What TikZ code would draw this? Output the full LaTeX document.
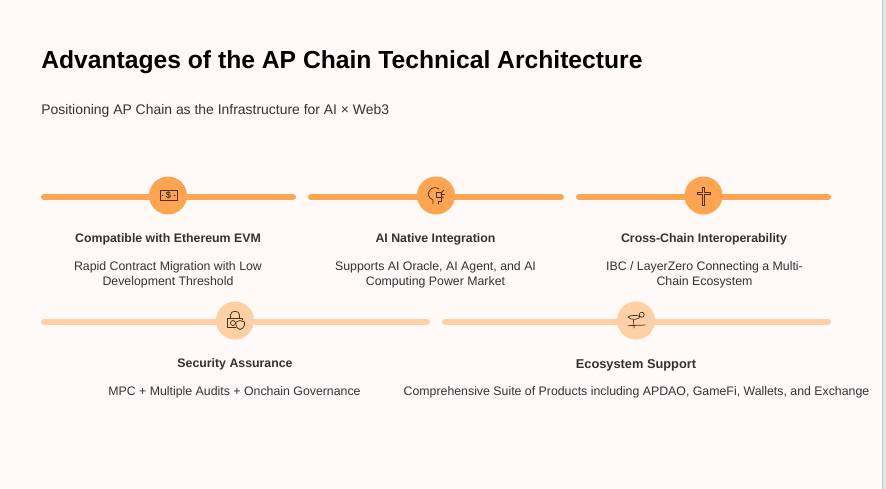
\documentclass[tikz,border=0pt]{standalone}
\usepackage{fontspec}
\setmainfont{Liberation Sans}
\definecolor{bgc}{HTML}{FFF9F7}
\definecolor{barA}{HTML}{FFA552}
\definecolor{barB}{HTML}{FFD0A6}
\definecolor{ink}{HTML}{333333}
\definecolor{strip}{HTML}{DCE9E4}
\definecolor{stripedge}{HTML}{C4C8C6}
\definecolor{icoc}{HTML}{4A3018}
\tikzset{
 barone/.style={line width=4.5pt,barA,line cap=round},
 bartwo/.style={line width=4.5pt,barB,line cap=round},
 discone/.style={circle,fill=barA,minimum size=28.5pt,inner sep=0pt},
 disctwo/.style={circle,fill=barB,minimum size=28.5pt,inner sep=0pt},
 head/.style={font=\fontsize{9.25}{11}\selectfont\bfseries,text=ink,align=center},
 body/.style={font=\fontsize{9.25}{11.4}\selectfont,text=ink,align=center},
 ico/.style={line width=.55pt,icoc,line cap=round,line join=round}
}
\begin{document}
\begin{tikzpicture}[x=.75pt,y=-.75pt]
\useasboundingbox (0,0) rectangle (886,489);
\fill[bgc] (0,0) rectangle (886,489);
\fill[strip] (882,0) rectangle (886,489);
\fill[stripedge] (882,0) rectangle (883,489);
\node[anchor=west,inner sep=0,font=\fontsize{18.5}{22}\selectfont\bfseries,text=black] (title) at (41,62.5) {Advantages of the AP Chain Technical Architecture};
\node[anchor=west,inner sep=0,font=\fontsize{10.45}{13}\selectfont,text=ink] (sub) at (41,111) {Positioning AP Chain as the Infrastructure for AI × Web3};
\draw[barone] (44,197) -- (293,197);
\draw[barone] (311,197) -- (561,197);
\draw[barone] (579,197) -- (828,197);
\draw[bartwo] (44,322) -- (427,322);
\draw[bartwo] (445,322) -- (828,322);
\node[discone] (d1) at (168,195.5) {};
\node[discone] (d2) at (436,195.5) {};
\node[discone] (d3) at (703.5,195.5) {};
\node[disctwo] (d4) at (235,320.5) {};
\node[disctwo] (d5) at (636,320.5) {};
% dollar icon
\draw[ico,line width=.75pt] (160,190.5) rectangle (177,200.5);
\draw[ico] (162,195.5) -- (163,195.5) (174,195.5) -- (175,195.5);
\node[inner sep=0,text=icoc,font=\fontsize{7}{7}\selectfont\bfseries] (i1) at (168.5,195.7) {\$};
% cross icon
\draw[ico] (702.3,187) -- (704.7,187) -- (704.7,192) -- (710,192) -- (710,194.5) -- (704.7,194.5) -- (704.7,205) -- (702.3,205) -- (702.3,194.5) -- (697,194.5) -- (697,192) -- (702.3,192) -- cycle;
% head icon
\draw[ico] (433,204) -- (433,200) .. controls (428,198) and (427,193) .. (430,190) .. controls (432,187) and (436,187) .. (439,189);
\draw[ico] (438,204) -- (438,201) -- (441,201) -- (441,197);
\draw[ico] (436,192) rectangle (441,197);
\draw[ico] (441,193) -- (443.5,190.5) (441,194.5) -- (444.5,194.5) (441,196) -- (443.5,198);
% lock icon
\draw[ico] (236,327) -- (227.5,327) -- (227.5,318.5) -- (242,318.5) -- (242,320);
\draw[ico] (230.5,318.5) -- (230.5,315) .. controls (230.5,310) and (239.5,310) .. (239.5,315) -- (239.5,318.5);
\draw[ico] (233,323) circle (2.5);
\draw[ico] (240,320.5) -- (244.5,322) -- (244.5,325) .. controls (244.5,327) and (242,329) .. (240,329.5) .. controls (238,329) and (236,327) .. (236,325) -- (236,322) -- cycle;
% cocktail icon
\draw[ico] (628,317) .. controls (630,315) and (638,315) .. (640,316.5) .. controls (640,320) and (630,320.5) .. (628,317) -- cycle;
\draw[ico] (641.7,314.7) circle (2.5);
\draw[ico] (633.5,320) -- (634,328);
\draw[ico] (628,325.7) -- (645,325);
% text
\node[head] (h1) at (168,239) {Compatible with Ethereum EVM};
\node[head] (h2) at (435.5,239) {AI Native Integration};
\node[head] (h3) at (704,239) {Cross-Chain Interoperability};
\node[body] (b1) at (168,274.5) {Rapid Contract Migration with Low\\Development Threshold};
\node[body] (b2) at (435.5,274.5) {Supports AI Oracle, AI Agent, and AI\\Computing Power Market};
\node[body] (b3) at (704.5,274.5) {IBC / LayerZero Connecting a Multi-\\Chain Ecosystem};
\node[head] (h4) at (235,364) {Security Assurance};
\node[head,font=\fontsize{9.6}{11}\selectfont\bfseries] (h5) at (636,365) {Ecosystem Support};
\node[body] (b4) at (234.5,392) {MPC + Multiple Audits + Onchain Governance};
\node[body] (b5) at (636.5,392) {Comprehensive Suite of Products including APDAO, GameFi, Wallets, and Exchange};
\end{tikzpicture}
\end{document}
